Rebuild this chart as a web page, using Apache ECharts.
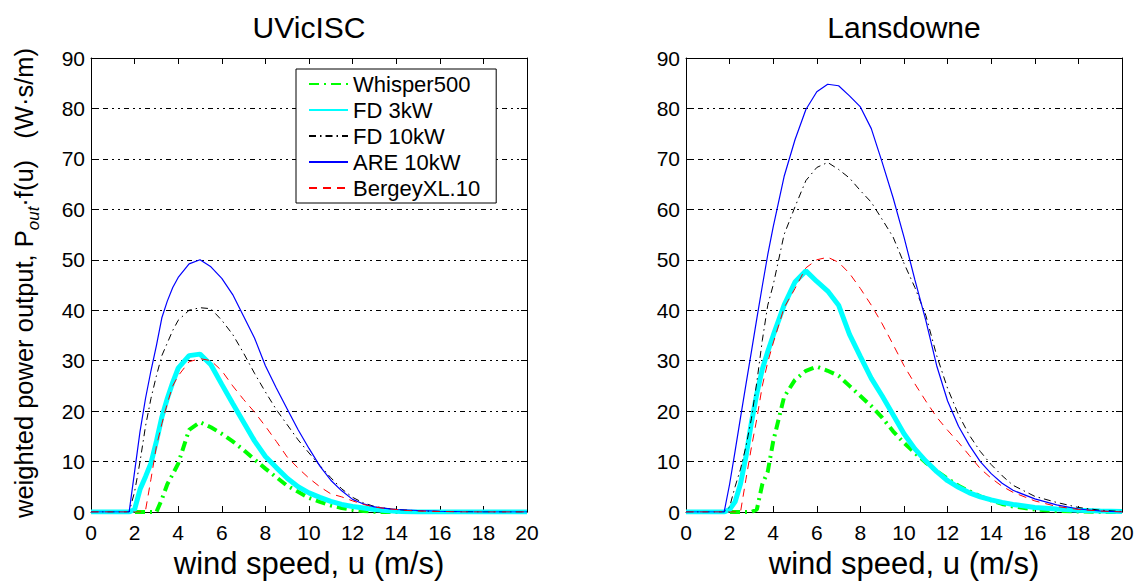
<!DOCTYPE html>
<html>
<head>
<meta charset="utf-8">
<script src="https://cdn.jsdelivr.net/npm/echarts@6/dist/echarts.min.js"></script>
<style>
html,body{margin:0;padding:0;background:#fff;}
#chart{width:1139px;height:584px;}
</style>
</head>
<body>
<div id="chart"></div>
<script>
// ---- data ----
const windSpeed = [0,1,1.75,2,2.25,2.5,2.75,3,3.25,3.5,3.75,4,4.5,5,5.5,6,6.5,7,7.5,8,8.5,9,9.5,10,10.5,11,11.5,12,12.5,13,13.5,14,14.5,15,16,17,18,19,20];

const seriesNames = ['Whisper500','FD 3kW','FD 10kW','ARE 10kW','BergeyXL.10'];
const siteTitles = ['UVicISC','Lansdowne'];

// UVicISC
const uvicWhisper500 = [0,0,0,0,0,0,0,0,2.5,5.5,7.5,9.6,16.3,17.8,16.8,15.5,14,12.3,10.4,8.6,6.9,5.2,4.0,2.8,2.0,1.3,0.8,0.45,0.2,0.05,0,0,0,0,0,0,0,0,0];
const uvicFD3kW = [0,0,0,0.5,4.5,7,9.7,14,18.8,22.5,25.7,28.5,31,31.3,29.2,25.3,21.5,17.8,14.1,11,8.8,6.7,5.0,3.8,2.9,2.1,1.5,1.1,0.8,0.5,0.28,0.15,0.05,0,0,0,0,0,0];
const uvicFD10kW = [0,0,0,4,10,17,22.5,27,31,33.5,36,38,40,40.5,40.3,38,35.2,31.5,27.5,23.8,20.3,17.3,14.3,11.7,9.2,6.8,4.6,2.9,1.8,1.1,0.75,0.5,0.35,0.25,0.1,0.05,0,0,0];
const uvicARE10kW = [0,0,0,8,16,22.5,28,33,38.5,41.8,44.5,46.5,49.2,50,48.6,46.3,43.1,38.8,34.5,29,24.6,20.4,16.3,12.6,9.1,6.3,4.2,2.5,1.6,1.0,0.7,0.5,0.4,0.3,0.15,0.05,0,0,0];
const uvicBergey = [0,0,0,0,0,0.3,6.5,13,17.5,21.5,25,27,29.8,30.4,30,28,25,22.3,19.8,17,14,10.9,8.7,6.7,5.0,3.6,3.0,2.2,1.5,1.0,0.7,0.5,0.3,0.2,0.1,0,0,0,0];

// Lansdowne
const lansWhisper500 = [0,0,0,0,0,0,0,0,0.5,5.5,8,14,22.8,26.2,28,28.8,28,27,25,23,21,18.7,16,13.7,11.7,9.8,8.1,6.6,5.2,4.1,3.1,2.3,1.6,1.1,0.5,0.2,0.1,0,0];
const lansFD3kW = [0,0,0,0.5,2,5.6,11,17.7,23.5,28.3,31.8,35,41,45.6,47.8,45.7,43.8,41,35.2,30.8,26.5,23,19.3,15.5,12.5,10.1,8,6.2,4.9,3.8,3.0,2.4,1.9,1.5,0.9,0.6,0.35,0.2,0.1];
const lansFD10kW = [0,0,0,1,5,8.5,13,18.5,25.8,34,41,45,55,60.5,65.7,68.3,69.3,67.9,66.2,63.7,61.4,58,54.5,49.3,44.5,39,31,24.5,19.3,15.2,12,9.4,7.2,5.3,3.1,1.9,0.9,0.35,0.1];
const lansARE10kW = [0,0,0,5.5,12,18.7,25.3,31.8,38.4,44.8,51,56.5,66.5,73.8,79.8,83.3,84.8,84.5,82.5,80.3,76,69.3,62.3,54.5,46,38,29,22,17,13.2,10,7.6,5.7,4.3,2.6,1.4,0.6,0.2,0];
const lansBergey = [0,0,0,0,0,0,6.5,12.8,18.5,25,29.7,33.5,40.5,44.3,48.4,50,50.5,49.5,47.3,44.3,41,37.3,33.2,29,25.4,22,18.8,16.2,13.8,11.2,8.6,6.7,5.1,3.9,2.2,1.1,0.5,0.2,0];

const siteData = [
  [uvicWhisper500, uvicFD3kW, uvicFD10kW, uvicARE10kW, uvicBergey],
  [lansWhisper500, lansFD3kW, lansFD10kW, lansARE10kW, lansBergey]
];

// ---- styles ----
const FONT = '"Liberation Sans", Arial, Helvetica, sans-serif';
const lineStyles = [
  {color:'#00ff00', width:4, type:[10,5,2,5]},
  {color:'#00ffff', width:5, type:'solid'},
  {color:'#000000', width:1, type:[7,4,1.5,4]},
  {color:'#0000ff', width:1.2, type:'solid'},
  {color:'#ff0000', width:1, type:[8,6]}
];

const grids = [
  {left:91, top:58, width:436, height:461},
  {left:686, top:58, width:436, height:461}
];

const xAxes = [], yAxes = [];
grids.forEach((g, gi) => {
  xAxes.push({
    type:'value', gridIndex:gi, position:'bottom', min:0, max:20, interval:2,
    axisLine:{show:true, onZero:false, lineStyle:{color:'#000', width:1}},
    axisTick:{show:true, inside:true, length:6, lineStyle:{color:'#000'}},
    axisLabel:{show:true, color:'#000', fontSize:21, fontFamily:FONT, margin:10},
    splitLine:{show:false},
    name:'wind speed, u (m/s)', nameLocation:'middle', nameGap:36,
    nameTextStyle:{color:'#000', fontSize:31, fontFamily:FONT}
  });
  xAxes.push({
    type:'value', gridIndex:gi, position:'top', min:0, max:20, interval:2,
    axisLine:{show:true, onZero:false, lineStyle:{color:'#000', width:1}},
    axisTick:{show:true, inside:true, length:6, lineStyle:{color:'#000'}},
    axisLabel:{show:false}, splitLine:{show:false}
  });
  yAxes.push({
    type:'value', gridIndex:gi, position:'left', min:0, max:90, interval:10,
    axisLine:{show:true, onZero:false, lineStyle:{color:'#000', width:1}},
    axisTick:{show:true, inside:true, length:6, lineStyle:{color:'#000'}},
    axisLabel:{show:true, color:'#000', fontSize:21, fontFamily:FONT, margin:6},
    splitLine:{show:true, lineStyle:{color:'#000', width:1, type:[2,4,2,4,5,4]}}
  });
  yAxes.push({
    type:'value', gridIndex:gi, position:'right', min:0, max:90, interval:10,
    axisLine:{show:true, onZero:false, lineStyle:{color:'#000', width:1}},
    axisTick:{show:true, inside:true, length:6, lineStyle:{color:'#000'}},
    axisLabel:{show:false}, splitLine:{show:false}
  });
});

const series = [];
siteData.forEach((arrs, gi) => {
  arrs.forEach((vals, si) => {
    series.push({
      name: seriesNames[si], type:'line',
      xAxisIndex: gi*2, yAxisIndex: gi*2,
      data: windSpeed.map((u, i) => [u, vals[i]]),
      symbol:'none', showSymbol:false, smooth:false,
      lineStyle: lineStyles[si], itemStyle:{color: lineStyles[si].color},
      emphasis:{disabled:true}, z: 3 + si, animation:false
    });
  });
});

const chart = echarts.init(document.getElementById('chart'), null, {renderer:'svg'});
chart.setOption({
  backgroundColor:'#ffffff',
  animation:false,
  grid: grids,
  xAxis: xAxes,
  yAxis: yAxes,
  legend: {
    data: seriesNames,
    orient:'vertical', left:296, top:69,
    padding:[4,16,4,12],
    itemWidth:39, itemHeight:14, itemGap:4, itemTextGap:13,
    borderColor:'#000', borderWidth:1, backgroundColor:'#fff',
    selectedMode:false,
    itemStyle:{opacity:0},
    textStyle:{color:'#000', fontSize:22, fontFamily:FONT, lineHeight:22},
    z: 10
  },
  graphic: [
    {type:'text', x:309, y:27, style:{text:siteTitles[0], fill:'#000', font:'30px ' + FONT, align:'center', verticalAlign:'middle'}},
    {type:'text', x:904, y:27, style:{text:siteTitles[1], fill:'#000', font:'30px ' + FONT, align:'center', verticalAlign:'middle'}},
    {type:'text', x:24, y:283, rotation:Math.PI/2,
     style:{
       text:'{a|weighted power output, P}{s|out}{a|\u00b7f(u)\u00a0\u00a0\u00a0(W\u00b7s/m)}',
       align:'center', verticalAlign:'middle',
       rich:{
         a:{fontSize:25.5, fontFamily:FONT, fill:'#000', color:'#000', lineHeight:36, verticalAlign:'middle'},
         s:{fontSize:17, fontFamily:FONT, fontStyle:'italic', fill:'#000', color:'#000', lineHeight:17, verticalAlign:'bottom'}
       }
     }}
  ],
  series: series
});
</script>
</body>
</html>
